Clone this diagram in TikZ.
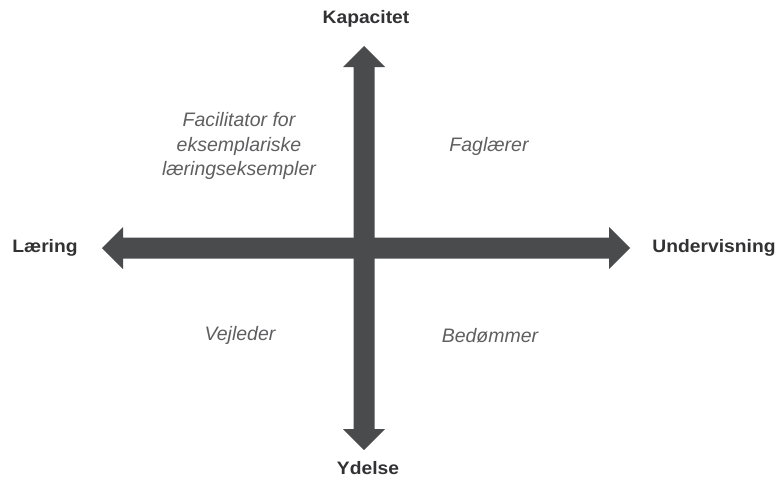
\documentclass[tikz,border=0pt]{standalone}
\usepackage{fontspec}
\setmainfont{Liberation Sans}
\newfontfamily\axisfont[FakeStretch=1.07]{Liberation Sans}
\definecolor{arrowgray}{RGB}{74,75,77}
\definecolor{labeldark}{RGB}{50,50,52}
\definecolor{rolegray}{RGB}{95,95,97}
\begin{document}
\begin{tikzpicture}[x=1pt,y=-1pt,
  axislabel/.style={font=\axisfont\fontsize{18}{21}\selectfont\bfseries, text=labeldark, inner sep=0pt},
  rolelabel/.style={font=\fontsize{19.5}{24.5}\selectfont\itshape, text=rolegray, align=center, inner sep=0pt}]
\useasboundingbox (0,0) rectangle (776,479);
% horizontal double arrow
\fill[arrowgray] (102,248) -- (123,227) -- (123,237.5) -- (609,237.5) -- (609,227) -- (630,248)
  -- (609,269) -- (609,258.5) -- (123,258.5) -- (123,269) -- cycle;
% vertical double arrow
\fill[arrowgray] (364,46) -- (385,67) -- (374.5,67) -- (374.5,429) -- (385,429) -- (364,450)
  -- (343,429) -- (353.5,429) -- (353.5,67) -- (343,67) -- cycle;
\node[axislabel] (top) at (366,19) {Kapacitet};
\node[axislabel] (bottom) at (368,468) {Ydelse};
\node[axislabel] (left) at (45,248) {Læring};
\node[axislabel] (right) at (714,248) {Undervisning};
\node[rolelabel] (tl) at (239,146) {Facilitator for\\eksemplariske\\læringseksempler};
\node[rolelabel] (tr) at (489,146) {Faglærer};
\node[rolelabel] (bl) at (240,335) {Vejleder};
\node[rolelabel] (br) at (490,336) {Bedømmer};
\end{tikzpicture}
\end{document}
